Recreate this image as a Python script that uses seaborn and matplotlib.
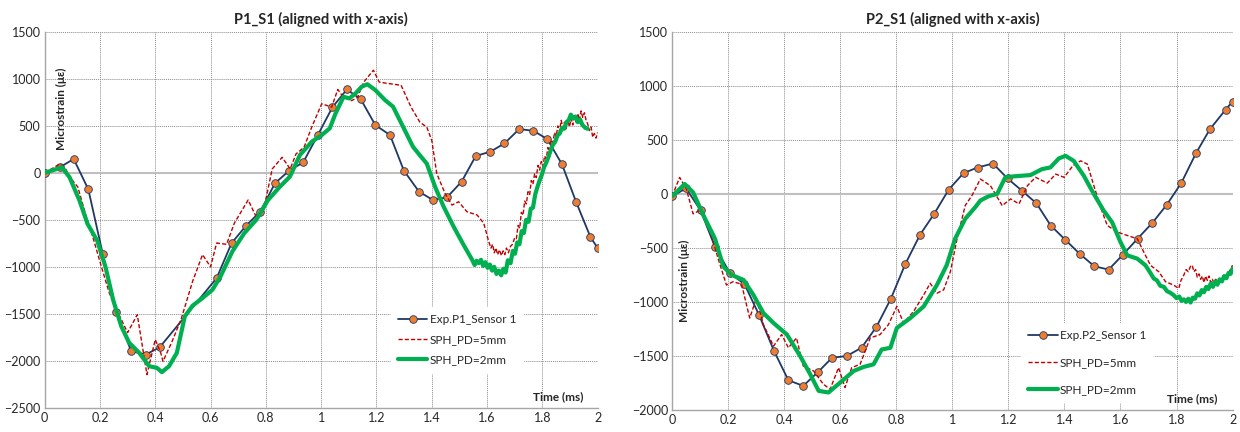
import numpy as np
import pandas as pd
import matplotlib
matplotlib.use("Agg")
import matplotlib.pyplot as plt
import seaborn as sns

# ---------------- P1_S1 data ----------------
p1_exp_t = [0.0, 0.055, 0.105, 0.158, 0.21, 0.258, 0.313, 0.366, 0.416,
            0.622, 0.676, 0.729, 0.78, 0.833, 0.884, 0.935, 0.988, 1.041, 1.093, 1.143,
            1.196, 1.249, 1.299, 1.354, 1.404, 1.455, 1.508, 1.559, 1.612, 1.663, 1.716,
            1.767, 1.818, 1.871, 1.922, 1.974, 2.0]
p1_exp_v = [0, 60, 148, -175, -860, -1480, -1898, -1933, -1856,
            -1120, -748, -560, -411, -110, 23, 112, 403, 700, 888, 785,
            509, 403, 25, -200, -288, -260, -93, 180, 226, 314, 466,
            449, 360, 91, -309, -684, -800]

p1_pd5_t = [0.0, 0.055, 0.076, 0.098, 0.12, 0.148, 0.177, 0.205, 0.234, 0.263, 0.3, 0.335,
            0.37, 0.4, 0.42, 0.428, 0.46, 0.493, 0.535, 0.571, 0.6, 0.622, 0.658, 0.686,
            0.736, 0.765, 0.79, 0.823, 0.859, 0.888, 0.909, 0.938, 0.966, 1.002, 1.038,
            1.06, 1.081, 1.11, 1.132, 1.153, 1.189, 1.21, 1.246, 1.289, 1.325, 1.357,
            1.382, 1.4, 1.418, 1.448, 1.473, 1.497, 1.527, 1.564, 1.588, 1.606,
            1.614, 1.62, 1.626, 1.632, 1.638, 1.645, 1.652, 1.658, 1.664, 1.67, 1.677,
            1.685, 1.692, 1.7, 1.706, 1.712, 1.718, 1.724, 1.73, 1.736, 1.742, 1.748,
            1.754, 1.76, 1.766, 1.772, 1.778, 1.784, 1.79, 1.796, 1.802, 1.808, 1.814,
            1.82, 1.826, 1.832, 1.838, 1.844, 1.85, 1.856, 1.862, 1.868, 1.874, 1.88,
            1.886, 1.892, 1.898, 1.904, 1.91, 1.916, 1.922, 1.928, 1.934, 1.94, 1.946,
            1.952, 1.958, 1.964, 1.97, 1.976, 1.982, 1.988, 1.994, 2.0]
p1_pd5_v = [0, 95, 40, -70, -150, -440, -710, -995, -1280, -1473, -1700, -1509,
            -2146, -1774, -1916, -2005, -1800, -1562, -1155, -870, -1000, -746, -760, -535,
            -288, -467, -420, 42, 166, 42, 202, 272, 488, 736, 700,
            888, 804, 769, 804, 963, 1093, 966, 950, 933, 700, 540,
            487, 346, -6, -218, -342, -307, -413, -448, -536, -731,
            -800, -760, -850, -800, -870, -820, -880, -830, -870, -800, -850,
            -780, -760, -690, -700, -560, -590, -420, -450, -300, -330, -200,
            -230, -80, -120, -10, -50, 80, 30, 120, 70, 180, 150,
            270, 230, 350, 320, 430, 390, 500, 440, 560, 480, 540,
            470, 560, 490, 580, 510, 600, 540, 630, 560, 660, 590,
            640, 560, 520, 450, 490, 380, 420, 370, 430]

p1_pd2_t = [0.0, 0.062, 0.09, 0.126, 0.155, 0.19, 0.22, 0.248, 0.277, 0.306, 0.342, 0.378,
            0.406, 0.424, 0.45, 0.478, 0.507, 0.535, 0.571, 0.607, 0.636, 0.679, 0.722,
            0.765, 0.808, 0.851, 0.887, 0.923, 0.966, 1.002, 1.031, 1.052, 1.081, 1.102,
            1.124, 1.146, 1.167, 1.196, 1.231, 1.26, 1.296, 1.332, 1.357, 1.382, 1.412,
            1.443, 1.479, 1.515, 1.546, 1.555, 1.562, 1.57, 1.578, 1.586, 1.594, 1.602,
            1.61, 1.618, 1.626, 1.634, 1.643, 1.651, 1.659, 1.667, 1.675, 1.685, 1.693,
            1.701, 1.709, 1.717, 1.725, 1.733, 1.741, 1.75, 1.758, 1.766, 1.774, 1.782,
            1.79, 1.798, 1.806, 1.814, 1.822, 1.83, 1.838, 1.846, 1.855, 1.863, 1.871,
            1.879, 1.887, 1.895, 1.903, 1.911, 1.92, 1.928, 1.936, 1.945, 1.955, 1.964]
p1_pd2_v = [0, 60, -46, -294, -542, -720, -1000, -1354, -1632, -1809, -1915, -2057,
            -2075, -2120, -2057, -1915, -1527, -1413, -1332, -1243, -1102, -835, -641,
            -500, -288, -146, -40, 190, 332, 403, 474, 633, 810, 793,
            845, 916, 944, 881, 775, 705, 492, 279, 187, 99, -148,
            -360, -572, -766, -925, -980, -935, -960, -925, -990, -950, -1010,
            -975, -1040, -1000, -1075, -1040, -1090, -1020, -1060, -930, -960, -830,
            -860, -740, -760, -620, -640, -500, -520, -380, -370, -230, -150,
            -80, -20, 60, 110, 170, 240, 300, 330, 400, 420, 480,
            470, 540, 560, 620, 580, 600, 540, 570, 510, 480, 470]

# ---------------- P2_S1 data ----------------
p2_exp_t = [0.0, 0.05, 0.102, 0.153, 0.207, 0.258, 0.31, 0.364, 0.415, 0.468, 0.521, 0.571,
            0.623, 0.676, 0.729, 0.78, 0.832, 0.885, 0.936, 0.987, 1.04, 1.09, 1.145,
            1.197, 1.248, 1.3, 1.351, 1.403, 1.454, 1.507, 1.558, 1.609, 1.661, 1.713,
            1.765, 1.817, 1.869, 1.919, 1.975, 2.0]
p2_exp_v = [-21, 52, -153, -490, -735, -833, -1118, -1455, -1725, -1777, -1648, -1516,
            -1501, -1424, -1231, -974, -650, -377, -181, 40, 193, 245, 282,
            144, 31, -86, -292, -424, -553, -670, -700, -562, -414, -270,
            -101, 101, 375, 599, 780, 856]

p2_pd5_t = [0.0, 0.027, 0.051, 0.075, 0.098, 0.134, 0.164, 0.194, 0.218, 0.248, 0.277, 0.301,
            0.326, 0.362, 0.391, 0.415, 0.444, 0.468, 0.505, 0.54, 0.564, 0.594, 0.617,
            0.641, 0.671, 0.707, 0.742, 0.772, 0.802, 0.826, 0.862, 0.898, 0.921, 0.945,
            0.969, 0.993, 1.017, 1.046, 1.07, 1.1, 1.136, 1.178, 1.208, 1.238, 1.268,
            1.297, 1.339, 1.369, 1.399, 1.43, 1.458, 1.482, 1.505, 1.529, 1.553, 1.589,
            1.624, 1.66, 1.683, 1.707, 1.737, 1.761, 1.79, 1.808, 1.816, 1.826, 1.834,
            1.842, 1.85, 1.856, 1.862, 1.868, 1.874, 1.88, 1.886, 1.892, 1.898, 1.904,
            1.91, 1.916, 1.922, 1.928, 1.934, 1.94, 1.948, 1.955, 1.962, 1.969, 1.976,
            1.984, 1.992, 2.0]
p2_pd5_v = [-21, 153, 46, -184, -153, -322, -597, -843, -812, -836, -1149, -965,
            -1210, -1409, -1302, -1424, -1333, -1593, -1639, -1762, -1808, -1608, -1792,
            -1608, -1577, -1333, -1302, -1210, -1041, -1195, -1087, -934, -827, -919,
            -888, -720, -414, -107, -15, 138, 77, -108, -46, -92, 77,
            154, 101, 184, 154, 261, 307, 276, 77, -123, -292, -353,
            -384, -414, -537, -660, -721, -813, -844, -875, -800, -752, -700,
            -720, -670, -660, -720, -700, -770, -740, -790, -760, -820, -760,
            -800, -760, -820, -790, -830, -790, -830, -800, -810, -783, -760,
            -740, -700, -660]

p2_pd2_t = [0.0, 0.045, 0.075, 0.112, 0.153, 0.183, 0.213, 0.255, 0.29, 0.326, 0.362, 0.41,
            0.457, 0.493, 0.523, 0.558, 0.6, 0.648, 0.683, 0.719, 0.748, 0.779, 0.802,
            0.85, 0.898, 0.945, 0.98, 1.01, 1.046, 1.082, 1.1, 1.13, 1.16, 1.189,
            1.219, 1.279, 1.32, 1.35, 1.38, 1.404, 1.433, 1.469, 1.505, 1.54, 1.57,
            1.6, 1.624, 1.66, 1.689, 1.704, 1.719, 1.73, 1.742, 1.755, 1.766, 1.778,
            1.79, 1.8, 1.81, 1.818, 1.826, 1.834, 1.842, 1.85, 1.858, 1.866, 1.874,
            1.882, 1.89, 1.898, 1.906, 1.914, 1.922, 1.93, 1.938, 1.946, 1.954, 1.962,
            1.97, 1.978, 1.986, 1.993, 2.0]
p2_pd2_v = [-21, 92, 15, -199, -413, -674, -750, -796, -934, -1103, -1195, -1302,
            -1501, -1670, -1823, -1838, -1746, -1639, -1602, -1577, -1440, -1424, -1241,
            -1149, -1041, -843, -659, -414, -230, -122, -61, -20, 0, 154,
            163, 175, 230, 246, 329, 353, 307, 169, 0, -154, -261,
            -445, -568, -599, -660, -720, -783, -800, -850, -860, -900, -915,
            -937, -965, -950, -990, -976, -1000, -970, -1005, -960, -970, -920,
            -940, -890, -910, -860, -880, -830, -860, -810, -840, -790, -810,
            -760, -780, -730, -740, -690]

EXP_COLOR = "#1F3864"
MARK_COLOR = "#ED7D31"
PD5_COLOR = "#C00000"
PD2_COLOR = "#00B050"

sns.set_style("white")
plt.rcParams['font.family'] = ['Lato', 'DejaVu Sans']


def make_df(t, v):
    return pd.DataFrame({"time": t, "strain": v})


def draw_panel(ax, exp, pd5, pd2, exp_label, title, ylim, yticks,
               ylab_pos, leg_anchor, leg_spacing):
    sns.lineplot(data=make_df(*exp), x="time", y="strain", ax=ax, sort=False,
                 estimator=None, color=EXP_COLOR, lw=1.3, marker="o", ms=5.5,
                 markerfacecolor=MARK_COLOR, markeredgecolor=EXP_COLOR,
                 markeredgewidth=0.6, label=exp_label, zorder=3)
    sns.lineplot(data=make_df(*pd5), x="time", y="strain", ax=ax, sort=False,
                 estimator=None, color=PD5_COLOR, lw=1.0, linestyle=(0, (3, 1.5)),
                 label="SPH_PD=5mm", zorder=4)
    sns.lineplot(data=make_df(*pd2), x="time", y="strain", ax=ax, sort=False,
                 estimator=None, color=PD2_COLOR, lw=3.0,
                 label="SPH_PD=2mm", zorder=5)

    ax.set_xlim(0, 2)
    ax.set_ylim(*ylim)
    ax.set_xticks(np.arange(0, 2.01, 0.2))
    ax.set_xticklabels(["0", "0.2", "0.4", "0.6", "0.8", "1", "1.2", "1.4",
                        "1.6", "1.8", "2"])
    ax.set_yticks(yticks)
    ax.tick_params(axis="both", labelsize=9, length=0, pad=3)
    ax.grid(True, color="#8c8c8c", linestyle=(0, (1, 1)), lw=0.7)
    ax.axhline(0, color="#bfbfbf", lw=1.5, zorder=1)
    for s in ["left", "bottom"]:
        ax.spines[s].set_color("#a6a6a6")
        ax.spines[s].set_linewidth(1.0)
    for s in ["top", "right"]:
        ax.spines[s].set_visible(False)
    ax.set_xlabel("")
    ax.set_ylabel("")
    ax.set_title(title, fontsize=10.5, fontweight="bold", pad=6)
    ax.text(ylab_pos[0], ylab_pos[1], "Microstrain (\u03bc\u03b5)", transform=ax.transAxes,
            rotation=90, ha="center", va="center", fontsize=8.5, fontweight="bold")
    ax.text(0.928, 0.03, "Time (ms)", transform=ax.transAxes, ha="center",
            va="center", fontsize=8.5, fontweight="bold")
    leg = ax.legend(loc="upper left", bbox_to_anchor=leg_anchor, frameon=True,
                    fontsize=8.5, handlelength=2.5, labelspacing=leg_spacing,
                    handletextpad=0.2, borderpad=0.6, fancybox=False)
    leg.get_frame().set_facecolor("white")
    leg.get_frame().set_edgecolor("white")
    leg.get_frame().set_alpha(1.0)
    leg.set_zorder(6)


fig = plt.figure(figsize=(12.4, 4.32), dpi=100)
ax1 = fig.add_axes([0.036, 0.056, 0.446, 0.870])
ax2 = fig.add_axes([0.542, 0.051, 0.452, 0.875])

draw_panel(ax1, (p1_exp_t, p1_exp_v), (p1_pd5_t, p1_pd5_v), (p1_pd2_t, p1_pd2_v),
           "Exp.P1_Sensor 1", "P1_S1 (aligned with x-axis)", (-2500, 1500),
           np.arange(-2500, 1501, 500), (0.03, 0.795), (0.615, 0.285), 0.8)
draw_panel(ax2, (p2_exp_t, p2_exp_v), (p2_pd5_t, p2_pd5_v), (p2_pd2_t, p2_pd2_v),
           "Exp.P2_Sensor 1", "P2_S1 (aligned with x-axis)", (-2000, 1500),
           np.arange(-2000, 1501, 500), (0.023, 0.343), (0.612, 0.245), 1.35)

fig.savefig("out.png", dpi=100)
plt.close(fig)
